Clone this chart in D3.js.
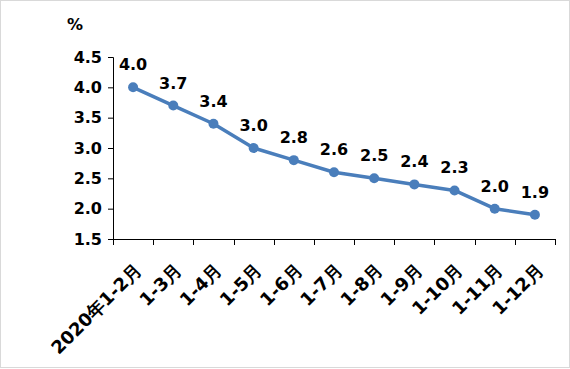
<!DOCTYPE html>
<html>
<head>
<meta charset="utf-8">
<script src="https://cdn.jsdelivr.net/npm/d3@7/dist/d3.min.js"></script>
<style>
  body { margin: 0; background: #fff; }
  svg { display: block; }
  text { font-family: "DejaVu Sans", Verdana, sans-serif; font-weight: bold; fill: #000; }
</style>
</head>
<body>
<div id="chart"></div>
<script>
const categories = ['2020年1-2月', '1-3月', '1-4月', '1-5月', '1-6月', '1-7月', '1-8月', '1-9月', '1-10月', '1-11月', '1-12月'];
const values = [4.0, 3.7, 3.4, 3.0, 2.8, 2.6, 2.5, 2.4, 2.3, 2.0, 1.9];
const yTicks = [1.5, 2.0, 2.5, 3.0, 3.5, 4.0, 4.5];

const width = 570, height = 369;
const plotLeft = 113, plotRight = 555, plotTop = 57, plotBottom = 239;

const svg = d3.select('#chart').append('svg')
  .attr('width', width)
  .attr('height', height);

// outer border
svg.append('rect')
  .attr('x', 0.5).attr('y', 0.5)
  .attr('width', width - 1).attr('height', height - 2)
  .attr('fill', 'none')
  .attr('stroke', '#d9d9d9');

const x = d3.scaleBand().domain(categories).range([plotLeft, plotRight]);
const y = d3.scaleLinear().domain([1.5, 4.5]).range([plotBottom, plotTop]);

// y axis
const yAxis = svg.append('g')
  .attr('transform', 'translate(' + plotLeft + ',0)')
  .call(d3.axisLeft(y).tickValues(yTicks).tickFormat(d3.format('.1f')).tickSizeOuter(0).tickSize(5));
yAxis.select('.domain').attr('stroke', '#000');
yAxis.selectAll('.tick line').attr('stroke', '#000');
yAxis.selectAll('.tick text')
  .attr('x', -11)
  .style('font-size', '16px')
  .style('font-family', '"DejaVu Sans", sans-serif');

// x axis line + ticks at band boundaries
const xg = svg.append('g');
xg.append('line')
  .attr('x1', plotLeft).attr('x2', plotRight)
  .attr('y1', plotBottom + 0.5).attr('y2', plotBottom + 0.5)
  .attr('stroke', '#000');
const bounds = categories.map(c => x(c)).concat([plotRight]);
xg.selectAll('.xt')
  .data(bounds)
  .enter().append('line')
  .attr('class', 'xt')
  .attr('x1', d => Math.round(d) + 0.5).attr('x2', d => Math.round(d) + 0.5)
  .attr('y1', plotBottom).attr('y2', plotBottom + 6)
  .attr('stroke', '#000');

// x labels, rotated
xg.selectAll('.xl')
  .data(categories)
  .enter().append('text')
  .attr('class', 'xl')
  .attr('transform', d => 'translate(' + (x(d) + x.bandwidth() / 2 + 5) + ',267) rotate(-45)')
  .attr('text-anchor', 'end')
  .attr('dy', '0.35em')
  .style('font-size', '18px')
  .text(d => d);

// unit label
svg.append('text')
  .attr('x', 75).attr('y', 30)
  .attr('text-anchor', 'middle')
  .style('font-size', '16px')
  .text('%');

// line
const cx = (d, i) => x(categories[i]) + x.bandwidth() / 2;
const line = d3.line()
  .x((d, i) => cx(d, i))
  .y(d => y(d));

svg.append('path')
  .datum(values)
  .attr('d', line)
  .attr('fill', 'none')
  .attr('stroke', '#4a7ebb')
  .attr('stroke-width', 3.5)
  .attr('stroke-linejoin', 'round');

svg.selectAll('.dot')
  .data(values)
  .enter().append('circle')
  .attr('class', 'dot')
  .attr('cx', cx)
  .attr('cy', d => y(d))
  .attr('r', 5)
  .attr('fill', '#4a7ebb');

svg.selectAll('.lbl')
  .data(values)
  .enter().append('text')
  .attr('class', 'lbl')
  .attr('x', cx)
  .attr('y', d => y(d) - 17)
  .attr('text-anchor', 'middle')
  .style('font-size', '16px')
  .text(d => d.toFixed(1));
</script>
</body>
</html>
